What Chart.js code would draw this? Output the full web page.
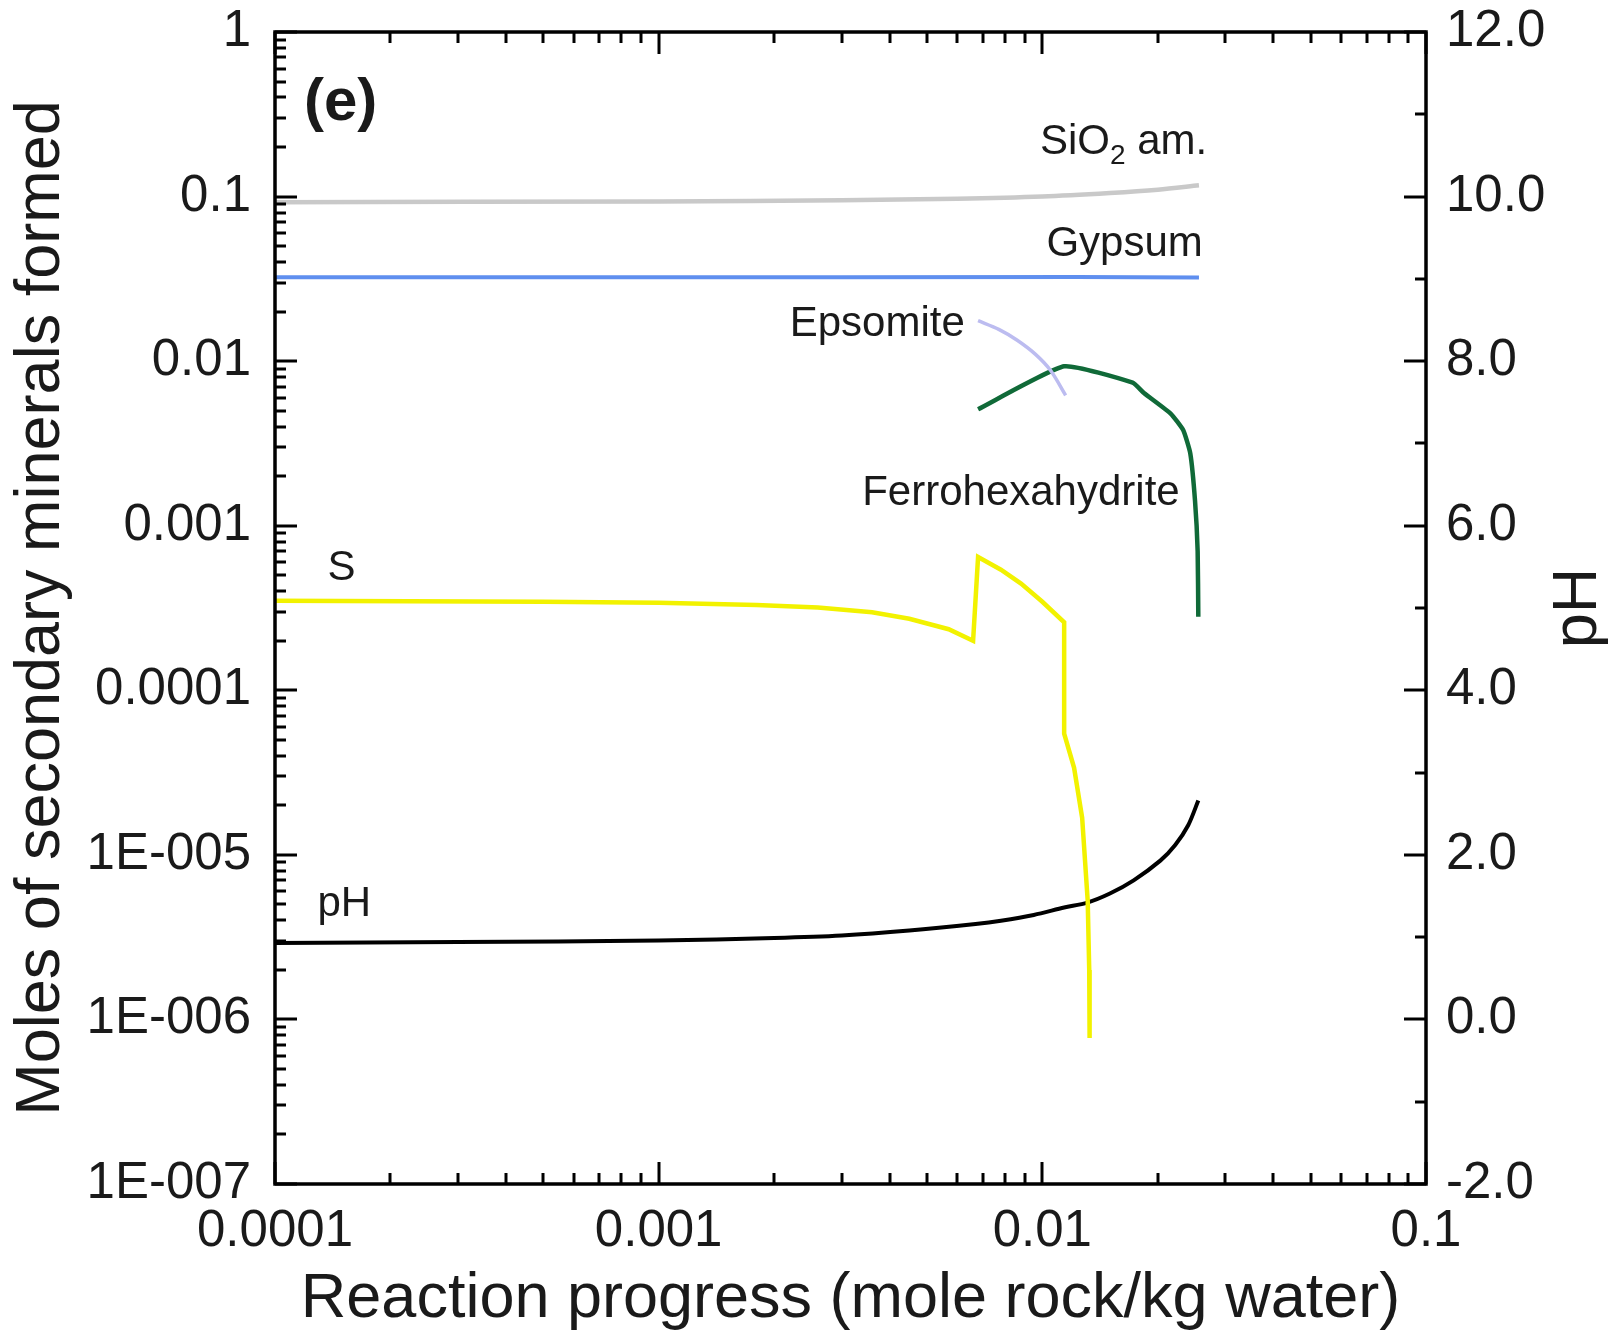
<!DOCTYPE html>
<html>
<head>
<meta charset="utf-8">
<script src="https://cdn.jsdelivr.net/npm/chart.js@4.4.0/dist/chart.umd.min.js"></script>
<style>
  html, body { margin: 0; padding: 0; background: #fff; }
</style>
</head>
<body>
<canvas id="chart" width="1608" height="1334"></canvas>
<script>
const FONT = "'Liberation Sans', Arial, sans-serif";

// reaction progress (mole rock / kg water) and moles formed
const sio2X = [1e-4, 1e-3, 3e-3, 0.006, 0.01, 0.015, 0.02, 0.0256];
const sio2Y = [0.0925, 0.0935, 0.095, 0.097, 0.100, 0.105, 0.110, 0.117];

const gypsumX = [1e-4, 0.003, 0.0123, 0.0256];
const gypsumY = [0.0323, 0.0323, 0.0324, 0.0322];

const epsomiteX = [0.0068, 0.0077, 0.0086, 0.0096, 0.0105, 0.0115];
const epsomiteY = [0.0176, 0.0156, 0.0134, 0.0110, 0.0088, 0.0062];

const ferroX = [0.0068, 0.0114, 0.0172, 0.0184, 0.0216, 0.0233, 0.0243, 0.0250, 0.0254, 0.0255];
const ferroY = [0.0051, 0.0093, 0.0074, 0.0064, 0.0048, 0.0038, 0.00275, 0.00142, 0.0007, 0.00028];

const sulfurX = [1e-4, 5e-4, 1e-3, 0.0018, 0.0026, 0.0036, 0.0045, 0.0057, 0.0066, 0.0068, 0.0078, 0.0088, 0.0100, 0.0114,
  0.0114, 0.0121, 0.0127, 0.01313, 0.01325, 0.01328];
const sulfurY = [3.5e-4, 3.45e-4, 3.4e-4, 3.3e-4, 3.18e-4, 2.98e-4, 2.72e-4, 2.35e-4, 2.0e-4, 6.45e-4, 5.4e-4, 4.45e-4, 3.45e-4, 2.59e-4,
  5.45e-5, 3.38e-5, 1.68e-5, 5.25e-6, 2.0e-6, 7.7e-7];

const phX = [1e-4, 3e-4, 1e-3, 2e-3, 3e-3, 4.5e-3, 6.7e-3, 7.8e-3, 0.0095, 0.0114, 0.0131, 0.015, 0.0173, 0.0203, 0.0222, 0.0240, 0.0255];
const phY = [0.93, 0.94, 0.96, 0.99, 1.02, 1.08, 1.16, 1.20, 1.27, 1.36, 1.42, 1.53, 1.69, 1.93, 2.12, 2.36, 2.66];

// tick labels
const xTickLabels = ['0.0001', '0.001', '0.01', '0.1'];          // 1e-4 .. 1e-1
const yTickLabels = ['1E-007', '1E-006', '1E-005', '0.0001', '0.001', '0.01', '0.1', '1']; // 1e-7 .. 1
const phTicks = [-2, -1, 0, 1, 2, 3, 4, 5, 6, 7, 8, 9, 10, 11, 12];

const pts = (xs, ys) => xs.map((x, i) => ({ x, y: ys[i] }));
const isDecade = v => Math.abs(Math.log10(v) - Math.round(Math.log10(v))) < 1e-6;
const logTicks = (lo, hi) => {
  const out = [];
  for (let e = lo; e < hi; e++) for (let m = 1; m < 10; m++) out.push({ value: m * Math.pow(10, e) });
  out.push({ value: Math.pow(10, hi) });
  return out;
};
// keep the plot box fixed: no extra room for overhanging end labels
const noPad = s => { s.paddingTop = 0; s.paddingBottom = 0; s.paddingLeft = 0; s.paddingRight = 0; };

// inward ticks on all four sides plus the frame
const frameTicks = {
  id: 'frameTicks',
  afterDatasetsDraw(chart) {
    const { ctx, chartArea: a, scales } = chart;
    const line = (x1, y1, x2, y2) => { ctx.beginPath(); ctx.moveTo(x1, y1); ctx.lineTo(x2, y2); ctx.stroke(); };
    ctx.save();
    ctx.strokeStyle = '#000';
    ctx.lineWidth = 3;
    scales.x.ticks.forEach(t => {
      const px = Math.round(scales.x.getPixelForValue(t.value));
      const len = isDecade(t.value) ? 22 : 11;
      line(px, a.bottom, px, a.bottom - len);
      line(px, a.top, px, a.top + len);
    });
    scales.y.ticks.forEach(t => {
      const py = Math.round(scales.y.getPixelForValue(t.value));
      line(a.left, py, a.left + (isDecade(t.value) ? 22 : 11), py);
    });
    scales.y2.ticks.forEach(t => {
      const py = Math.round(scales.y2.getPixelForValue(t.value));
      line(a.right, py, a.right - (t.value % 2 === 0 ? 22 : 11), py);
    });
    ctx.lineWidth = 3.5;
    ctx.strokeRect(a.left, a.top, a.right - a.left, a.bottom - a.top);
    ctx.restore();
  }
};

// curve names, panel letter and the pH axis title
const curveLabels = {
  id: 'curveLabels',
  afterDraw(chart) {
    const { ctx, scales } = chart;
    const X = v => scales.x.getPixelForValue(v);
    const Y = v => scales.y.getPixelForValue(v);
    const P = v => scales.y2.getPixelForValue(v);
    ctx.save();
    ctx.fillStyle = '#1a1a1a';
    ctx.textBaseline = 'alphabetic';

    ctx.font = `42px ${FONT}`;
    ctx.textAlign = 'right';
    ctx.fillText('Gypsum', X(0.0262), Y(0.0434));
    ctx.fillText('Epsomite', X(0.00628), Y(0.01415));
    ctx.fillText('Ferrohexahydrite', X(0.0228), Y(0.00133));

    // SiO2 am. with subscript
    const right = X(0.0269), base = Y(0.181);
    ctx.textAlign = 'left';
    const w1 = ctx.measureText('SiO').width;
    const w3 = ctx.measureText(' am.').width;
    ctx.font = `28px ${FONT}`;
    const w2 = ctx.measureText('2').width;
    const start = right - (w1 + w2 + w3);
    ctx.font = `42px ${FONT}`;
    ctx.fillText('SiO', start, base);
    ctx.fillText(' am.', start + w1 + w2, base);
    ctx.font = `28px ${FONT}`;
    ctx.fillText('2', start + w1, base + 10);

    ctx.font = `42px ${FONT}`;
    ctx.fillText('S', X(1.37e-4), Y(4.71e-4));
    ctx.fillText('pH', X(1.29e-4), P(1.26));

    ctx.font = `bold 60px ${FONT}`;
    ctx.fillText('(e)', X(1.19e-4), Y(0.292));

    // right axis title, reading bottom to top
    ctx.font = `63px ${FONT}`;
    ctx.textAlign = 'center';
    ctx.textBaseline = 'middle';
    ctx.translate(1579, P(5));
    ctx.rotate(-Math.PI / 2);
    ctx.fillText('pH', 0, 0);
    ctx.restore();
  }
};

const lineStyle = (color, width, tension) => ({
  borderColor: color, backgroundColor: color, borderWidth: width,
  pointRadius: 0, showLine: true, tension, fill: false
});

new Chart(document.getElementById('chart').getContext('2d'), {
  type: 'scatter',
  data: {
    datasets: [
      { label: 'SiO2 am.', data: pts(sio2X, sio2Y), yAxisID: 'y', ...lineStyle('#c9c9c9', 4.5, 0.3) },
      { label: 'Gypsum', data: pts(gypsumX, gypsumY), yAxisID: 'y', ...lineStyle('#5f8fef', 4, 0) },
      { label: 'Epsomite', data: pts(epsomiteX, epsomiteY), yAxisID: 'y', ...lineStyle('#bcbcf0', 3.5, 0.3) },
      { label: 'Ferrohexahydrite', data: pts(ferroX, ferroY), yAxisID: 'y', ...lineStyle('#106a38', 4.5, 0.15) },
      { label: 'S', data: pts(sulfurX, sulfurY), yAxisID: 'y', ...lineStyle('#f2f200', 4.5, 0) },
      { label: 'pH', data: pts(phX, phY), yAxisID: 'y2', ...lineStyle('#000000', 4, 0.3) },
    ],
  },
  options: {
    responsive: false,
    animation: false,
    devicePixelRatio: 1,
    layout: { padding: { top: 32, left: 0, right: 0, bottom: 0 } },
    plugins: {
      legend: { display: false },
      tooltip: { enabled: false },
    },
    scales: {
      x: {
        type: 'logarithmic',
        position: 'bottom',
        min: 1e-4,
        max: 0.1,
        afterFit: s => { s.height = 150; noPad(s); },
        afterBuildTicks: s => { s.ticks = logTicks(-4, -1); },
        grid: { display: false, drawTicks: false },
        border: { display: false },
        ticks: {
          autoSkip: false,
          maxRotation: 0,
          padding: 17,
          color: '#1a1a1a',
          font: { size: 51, family: FONT },
          callback: v => isDecade(v) ? xTickLabels[Math.round(Math.log10(v)) + 4] : '',
        },
        title: {
          display: true,
          text: 'Reaction progress (mole rock/kg water)',
          color: '#1a1a1a',
          font: { size: 63, family: FONT, lineHeight: 1.1 },
          padding: { top: 0, bottom: 0 },
        },
      },
      y: {
        type: 'logarithmic',
        position: 'left',
        min: 1e-7,
        max: 1,
        afterFit: s => { s.width = 275; noPad(s); },
        afterBuildTicks: s => { s.ticks = logTicks(-7, 0); },
        grid: { display: false, drawTicks: false },
        border: { display: false },
        ticks: {
          autoSkip: false,
          padding: 24,
          color: '#1a1a1a',
          font: { size: 51, family: FONT },
          callback: v => isDecade(v) ? yTickLabels[Math.round(Math.log10(v)) + 7] : '',
        },
        title: {
          display: true,
          text: 'Moles of secondary minerals formed',
          color: '#1a1a1a',
          font: { size: 63, family: FONT },
          padding: { top: 4, bottom: 0 },
        },
      },
      y2: {
        type: 'linear',
        position: 'right',
        min: -2,
        max: 12,
        afterFit: s => { s.width = 182; noPad(s); },
        afterBuildTicks: s => { s.ticks = phTicks.map(v => ({ value: v })); },
        grid: { display: false, drawTicks: false },
        border: { display: false },
        ticks: {
          autoSkip: false,
          padding: 20,
          color: '#1a1a1a',
          font: { size: 51, family: FONT },
          callback: v => v % 2 === 0 ? v.toFixed(1) : '',
        },
      },
    },
  },
  plugins: [frameTicks, curveLabels],
});
</script>
</body>
</html>
